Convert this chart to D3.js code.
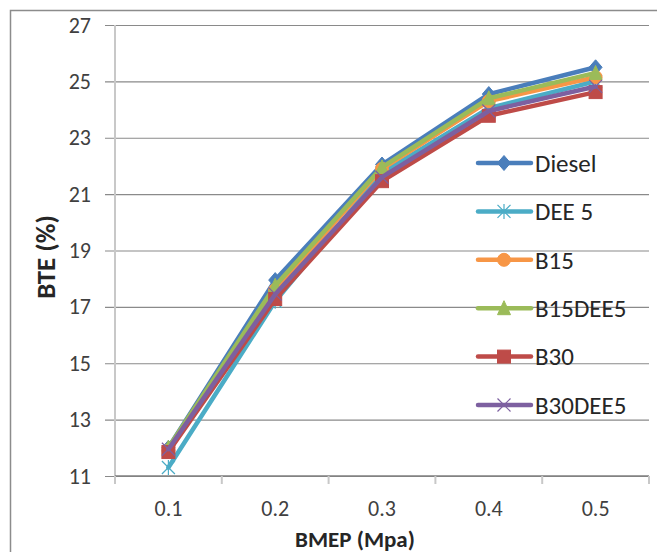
<!DOCTYPE html>
<html>
<head>
<meta charset="utf-8">
<script src="https://cdn.jsdelivr.net/npm/d3@7"></script>
<style>
  html, body { margin: 0; padding: 0; background: #fff; }
  svg { display: block; }
  text { font-family: Carlito, Lato, "Open Sans", sans-serif; }
</style>
</head>
<body>
<div id="chart"></div>
<script>
// BMEP load points (MPa)
const categories = ["0.1", "0.2", "0.3", "0.4", "0.5"];

// Brake thermal efficiency (%) per fuel blend
const diesel  = [12.0, 17.95, 22.05, 24.55, 25.5];
const dee5    = [11.3, 17.2, 21.75, 24.05, 25.0];
const b15     = [11.9, 17.6, 21.9, 24.3, 25.15];
const b15dee5 = [12.0, 17.75, 21.95, 24.4, 25.3];
const b30     = [11.85, 17.28, 21.46, 23.78, 24.62];
const b30dee5 = [11.95, 17.45, 21.6, 23.95, 24.82];

const seriesNames = ["Diesel", "DEE 5", "B15", "B15DEE5", "B30", "B30DEE5"];
const yTicks = [11, 13, 15, 17, 19, 21, 23, 25, 27];

const series = [
  { name: seriesNames[0], values: diesel,  color: "#4A7EBB", marker: "diamond" },
  { name: seriesNames[1], values: dee5,    color: "#4BACC6", marker: "star" },
  { name: seriesNames[2], values: b15,     color: "#F79646", marker: "circle" },
  { name: seriesNames[3], values: b15dee5, color: "#9BBB59", marker: "triangle" },
  { name: seriesNames[4], values: b30,     color: "#BE4B48", marker: "square" },
  { name: seriesNames[5], values: b30dee5, color: "#7D60A0", marker: "x" }
];

const W = 657, H = 552;
const plot = { left: 115, right: 649, top: 25, bottom: 476 };

const svg = d3.select("#chart").append("svg")
  .attr("width", W).attr("height", H);

// chart frame
svg.append("rect")
  .attr("x", 10.5).attr("y", 10.5)
  .attr("width", 700).attr("height", 600)
  .attr("fill", "#fff").attr("stroke", "#8c8c8c").attr("stroke-width", 1.5);

const x = d3.scaleBand().domain(categories)
  .range([plot.left, plot.right]).paddingInner(0).paddingOuter(0);
const y = d3.scaleLinear().domain([11, 27]).range([plot.bottom, plot.top]);

// horizontal gridlines + left ticks
const yAxis = d3.axisLeft(y).tickValues(yTicks)
  .tickSize(-(plot.right - plot.left + 10)).tickPadding(14)
  .tickFormat(d3.format("d"));
const gy = svg.append("g")
  .attr("transform", `translate(${plot.left - 10},0)`)
  .call(yAxis);
gy.select(".domain").remove();
gy.selectAll(".tick line").attr("stroke", "#8a8a8a").attr("stroke-width", 1.2);
gy.selectAll(".tick text")
  .attr("fill", "#404040").attr("font-size", 22);

// vertical axis line
svg.append("line")
  .attr("x1", plot.left).attr("x2", plot.left)
  .attr("y1", plot.top).attr("y2", plot.bottom + 8)
  .attr("stroke", "#c8c8c8").attr("stroke-width", 2);

// category axis
const xAxis = d3.axisBottom(x).tickSize(0).tickPadding(24);
const gx = svg.append("g")
  .attr("transform", `translate(0,${plot.bottom})`)
  .call(xAxis);
gx.select(".domain").remove();
gx.selectAll(".tick text").attr("fill", "#404040").attr("font-size", 22);

svg.append("line")
  .attr("x1", plot.left).attr("x2", plot.right)
  .attr("y1", plot.bottom).attr("y2", plot.bottom)
  .attr("stroke", "#7f7f7f").attr("stroke-width", 1.5);

// band boundary tick marks
const bounds = categories.map(c => x(c)).concat([plot.right]);
svg.append("g").selectAll("line").data(bounds).join("line")
  .attr("x1", d => d).attr("x2", d => d)
  .attr("y1", plot.bottom).attr("y2", plot.bottom + 8)
  .attr("stroke", "#c8c8c8").attr("stroke-width", 2);

// axis titles
svg.append("text")
  .attr("x", 355).attr("y", 547)
  .attr("text-anchor", "middle")
  .attr("font-size", 23).attr("font-weight", "bold").attr("fill", "#262626")
  .text("BMEP (Mpa)");

svg.append("text")
  .attr("transform", "translate(55,257) rotate(-90)")
  .attr("text-anchor", "middle")
  .attr("font-size", 27).attr("font-weight", "bold").attr("fill", "#262626")
  .text("BTE (%)");

// marker drawing
function drawMarker(g, type, color, cx, cy) {
  const s = 6.5;
  if (type === "diamond") {
    g.append("path")
      .attr("d", `M${cx},${cy - s - 1}L${cx + s},${cy}L${cx},${cy + s + 1}L${cx - s},${cy}Z`)
      .attr("fill", color).attr("stroke", color);
  } else if (type === "square") {
    g.append("rect").attr("x", cx - s).attr("y", cy - s)
      .attr("width", 2 * s).attr("height", 2 * s)
      .attr("fill", color).attr("stroke", color);
  } else if (type === "circle") {
    g.append("circle").attr("cx", cx).attr("cy", cy).attr("r", s)
      .attr("fill", color).attr("stroke", color);
  } else if (type === "triangle") {
    g.append("path")
      .attr("d", `M${cx},${cy - s - 1}L${cx + s},${cy + s}L${cx - s},${cy + s}Z`)
      .attr("fill", color).attr("stroke", color);
  } else if (type === "star") {
    const p = `M${cx - s},${cy - s}L${cx + s},${cy + s}M${cx - s},${cy + s}L${cx + s},${cy - s}M${cx},${cy - s - 1}L${cx},${cy + s + 1}`;
    g.append("path").attr("d", p).attr("stroke", color).attr("stroke-width", 1.2).attr("fill", "none");
  } else if (type === "x") {
    const p = `M${cx - s},${cy - s}L${cx + s},${cy + s}M${cx - s},${cy + s}L${cx + s},${cy - s}`;
    g.append("path").attr("d", p).attr("stroke", color).attr("stroke-width", 1.2).attr("fill", "none");
  }
}

const line = d3.line()
  .x((d, i) => x(categories[i]) + x.bandwidth() / 2)
  .y(d => y(d));

series.forEach(s => {
  const g = svg.append("g");
  g.append("path").datum(s.values)
    .attr("d", line)
    .attr("fill", "none").attr("stroke", s.color)
    .attr("stroke-width", 4.5).attr("stroke-linejoin", "round").attr("stroke-linecap", "round");
  s.values.forEach((v, i) => {
    drawMarker(g, s.marker, s.color, x(categories[i]) + x.bandwidth() / 2, y(v));
  });
});

// legend
const legend = svg.append("g");
series.forEach((s, i) => {
  const ly = 163 + i * 48.4;
  const g = legend.append("g");
  g.append("line")
    .attr("x1", 478).attr("x2", 531).attr("y1", ly).attr("y2", ly)
    .attr("stroke", s.color).attr("stroke-width", 4.5).attr("stroke-linecap", "round");
  drawMarker(g, s.marker, s.color, 504, ly);
  g.append("text")
    .attr("x", 535).attr("y", ly).attr("dy", "0.35em")
    .attr("font-size", 25).attr("fill", "#262626")
    .text(s.name);
});
</script>
</body>
</html>
